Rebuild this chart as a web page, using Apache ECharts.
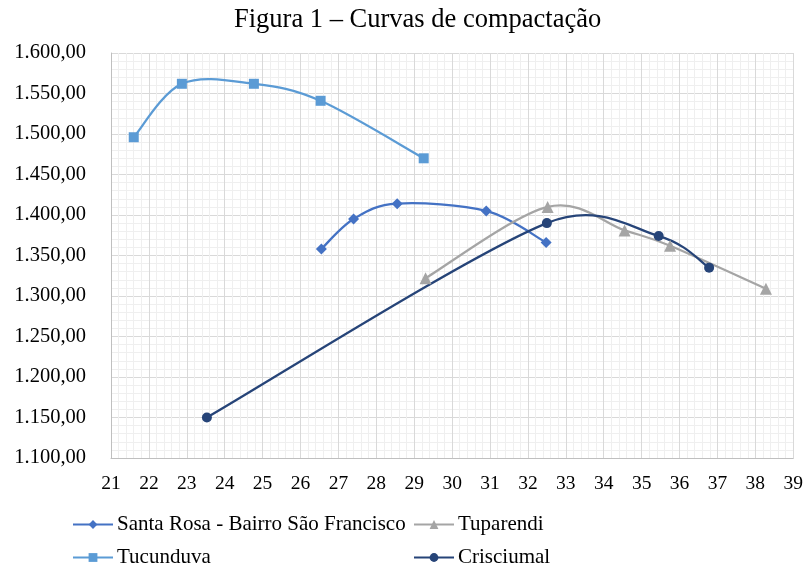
<!DOCTYPE html>
<html>
<head>
<meta charset="utf-8">
<script src="https://cdn.jsdelivr.net/npm/echarts@6/dist/echarts.min.js"></script>
<style>
  html, body { margin: 0; padding: 0; background: #fff; }
  #chart { width: 806px; height: 571px; }
</style>
</head>
<body>
<div id="chart"></div>
<script>
// valores (umidade %, massa específica kg/m³)
const santaRosa = [[26.55, 1358], [27.4, 1395], [28.55, 1414], [30.9, 1405], [32.48, 1366]];
const tucunduva = [[21.6, 1496], [22.87, 1562], [24.77, 1562], [26.53, 1541], [29.25, 1470]];
const tuparendi = [[29.3, 1322], [32.52, 1410], [34.55, 1381], [35.75, 1362], [38.28, 1309]];
const crisciumal = [[23.53, 1150], [32.5, 1390], [35.45, 1374], [36.78, 1335]];

const seriesNames = ['Santa Rosa - Bairro São Francisco', 'Tucunduva', 'Tuparendi', 'Crisciumal'];
const seriesColors = ['#4472C4', '#5B9BD5', '#A5A5A5', '#264478'];
const seriesSymbols = ['diamond', 'rect', 'triangle', 'circle'];
const symbolSizes = [11, 10, 12, 10];
const seriesData = [santaRosa, tucunduva, tuparendi, crisciumal];

const serif = '"Liberation Serif", "Times New Roman", serif';

function fmtBR(v) {
    const mil = Math.floor(v / 1000);
    const resto = String(v % 1000).padStart(3, '0');
    return mil + '.' + resto + ',00';
}

function dist(a, b) {
    return Math.hypot(b[0] - a[0], b[1] - a[1]);
}

// curva suavizada estilo Excel: tangente (P[i+1]-P[i-1])/6, limitada a metade do segmento
function smoothPath(pts) {
    const n = pts.length;
    const tin = [], tout = [];
    for (let i = 0; i < n; i++) {
        const p0 = pts[i - 1] || pts[i];
        const p2 = pts[i + 1] || pts[i];
        const tx = (p2[0] - p0[0]) / 6, ty = (p2[1] - p0[1]) / 6;
        const len = Math.hypot(tx, ty) || 1;
        const kIn = Math.min(1, dist(p0, pts[i]) / 2 / len);
        const kOut = Math.min(1, dist(pts[i], p2) / 2 / len);
        tin.push([tx * kIn, ty * kIn]);
        tout.push([tx * kOut, ty * kOut]);
    }
    let d = 'M' + pts[0][0] + ' ' + pts[0][1];
    for (let i = 0; i < n - 1; i++) {
        const p1 = pts[i], p2 = pts[i + 1];
        const c1 = [p1[0] + tout[i][0], p1[1] + tout[i][1]];
        const c2 = [p2[0] - tin[i + 1][0], p2[1] - tin[i + 1][1]];
        d += ' C' + c1[0] + ' ' + c1[1] + ' ' + c2[0] + ' ' + c2[1] + ' ' + p2[0] + ' ' + p2[1];
    }
    return d;
}

function legendFor(name, left, top) {
    return {
        data: [name],
        left: left,
        top: top,
        itemWidth: 40,
        itemHeight: 11,
        itemGap: 0,
        padding: 0,
        lineStyle: { opacity: 1 },
        textStyle: { fontFamily: serif, fontSize: 21, color: '#000', padding: [0, 0, 0, -1] }
    };
}

const lineSeries = seriesNames.map((name, i) => ({
    name: name,
    type: 'line',
    z: 3,
    data: seriesData[i],
    symbol: seriesSymbols[i],
    symbolSize: symbolSizes[i],
    color: seriesColors[i],
    lineStyle: { width: 2.25, color: seriesColors[i], opacity: 0 },
    itemStyle: { color: seriesColors[i] }
}));

const curveSeries = seriesNames.map((name, i) => ({
    name: name + ' (curva)',
    type: 'custom',
    z: 2,
    silent: true,
    clip: true,
    data: seriesData[i],
    encode: { x: 0, y: 1 },
    renderItem: function (params, api) {
        if (params.dataIndex !== 0) return null;
        const pts = seriesData[i].map(p => api.coord(p));
        return {
            type: 'path',
            shape: { pathData: smoothPath(pts) },
            style: { stroke: seriesColors[i], lineWidth: 2.25, fill: 'none' }
        };
    }
}));

let myChart = echarts.init(document.getElementById('chart'));
myChart.setOption({
    backgroundColor: '#fff',
    animation: false,
    title: {
        text: 'Figura 1 – Curvas de compactação',
        left: 229,
        top: 2,
        textStyle: { fontFamily: serif, fontSize: 26.5, fontWeight: 'normal', color: '#000' }
    },
    legend: [
        legendFor(seriesNames[0], 72, 514),
        legendFor(seriesNames[1], 72, 547),
        legendFor(seriesNames[2], 413, 514),
        legendFor(seriesNames[3], 413, 547)
    ],
    grid: { left: 111, right: 12, top: 53, bottom: 113, containLabel: false },
    xAxis: {
        type: 'value',
        min: 21,
        max: 39,
        interval: 1,
        axisLine: { show: true, lineStyle: { color: '#BFBFBF', width: 1 } },
        axisTick: { show: false },
        axisLabel: { fontFamily: serif, fontSize: 19.5, color: '#000', margin: 16 },
        splitLine: { show: true, lineStyle: { color: '#D9D9D9', width: 1 } },
        minorTick: { show: false, splitNumber: 5 },
        minorSplitLine: { show: true, lineStyle: { color: '#EFEFEF', width: 1 } }
    },
    yAxis: {
        type: 'value',
        min: 1100,
        max: 1600,
        interval: 50,
        axisLine: { show: true, lineStyle: { color: '#BFBFBF', width: 1 } },
        axisTick: { show: false },
        axisLabel: { fontFamily: serif, fontSize: 20.5, color: '#000', margin: 25, formatter: fmtBR },
        splitLine: { show: true, lineStyle: { color: '#D9D9D9', width: 1 } },
        minorTick: { show: false, splitNumber: 5 },
        minorSplitLine: { show: true, lineStyle: { color: '#EFEFEF', width: 1 } }
    },
    series: curveSeries.concat(lineSeries)
});
</script>
</body>
</html>
